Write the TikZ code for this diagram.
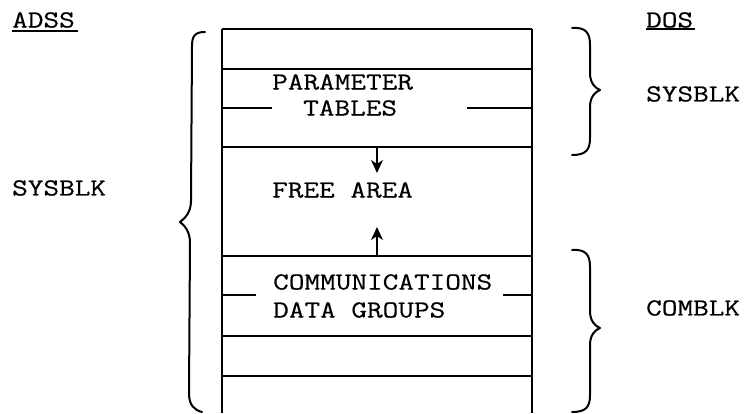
\documentclass[tikz,border=0pt]{standalone}
\usepackage{fontspec}
\newfontfamily\twfont[FakeBold=0.5,FakeStretch=1.24]{Latin Modern Mono}
\usetikzlibrary{arrows.meta}
\begin{document}
\begin{tikzpicture}[x=1pt,y=1pt,
  lbl/.style={anchor=west,inner sep=0pt,font=\twfont\fontsize{24.5}{28}\selectfont},
  boxline/.style={line width=1.4pt},
  bracestyle/.style={line width=2pt,line cap=round,line join=round},
  arr/.style={line width=1.3pt,-{Stealth[length=13pt,width=12pt,inset=4pt]}}]
\useasboundingbox (0,0) rectangle (745,413);
% memory column
\draw[boxline] (222,384) -- (222,0);
\draw[boxline] (532,384) -- (532,0);
\foreach \yy in {384,344,266,157,77,37}
  \draw[boxline] (222,\yy) -- (532,\yy);
% partial lines
\draw[boxline] (222,305) -- (272,305);
\draw[boxline] (467,305) -- (532,305);
\draw[boxline] (222,118) -- (256,118);
\draw[boxline] (503,118) -- (532,118);
% texts
\node[lbl] (param) at (272,331) {PARAMETER};
\node[lbl] (tables) at (303,305) {TABLES};
\node[lbl] (free) at (272,223) {FREE AREA};
\node[lbl] (comm) at (273,131) {COMMUNICATIONS};
\node[lbl] (data) at (273,103) {DATA GROUPS};
\node[lbl] (adss) at (12,393) {ADSS};
\node[lbl] (dos) at (646,393) {DOS};
\node[lbl] (sysl) at (12,225) {SYSBLK};
\node[lbl] (sysr) at (646,319) {SYSBLK};
\node[lbl] (comblk) at (646,105) {COMBLK};
% underlines
\draw[line width=1.4pt] (12,382) -- (78,382);
\draw[line width=1.4pt] (646,384) -- (695,384);
% arrows
\coordinate (d0) at (377,266);
\coordinate (d1) at (377,240);
\coordinate (u0) at (377,157);
\coordinate (u1) at (377,186);
\draw[arr] (d0) -- (d1);
\draw[arr] (u0) -- (u1);
% left brace
\draw[bracestyle] (205,381) .. controls (195,381) and (192,377) .. (192,367)
  -- (191,212) .. controls (191,200) and (184,194) .. (180,191)
  .. controls (184,188) and (190,182) .. (190,170)
  -- (189,20) .. controls (189,8) and (194,3) .. (202,1);
% right top brace
\draw[bracestyle] (572,385) .. controls (586,386) and (590,380) .. (590,368)
  -- (590,340) .. controls (590,330) and (595,325) .. (600,323)
  .. controls (595,321) and (590,316) .. (590,306)
  -- (590,275) .. controls (590,263) and (586,258) .. (572,258);
% right bottom brace
\draw[bracestyle] (572,163) .. controls (586,164) and (590,158) .. (590,146)
  -- (590,102) .. controls (590,92) and (595,87) .. (600,85)
  .. controls (595,83) and (590,78) .. (590,68)
  -- (590,18) .. controls (590,6) and (586,1) .. (572,1);
\end{tikzpicture}
\end{document}
